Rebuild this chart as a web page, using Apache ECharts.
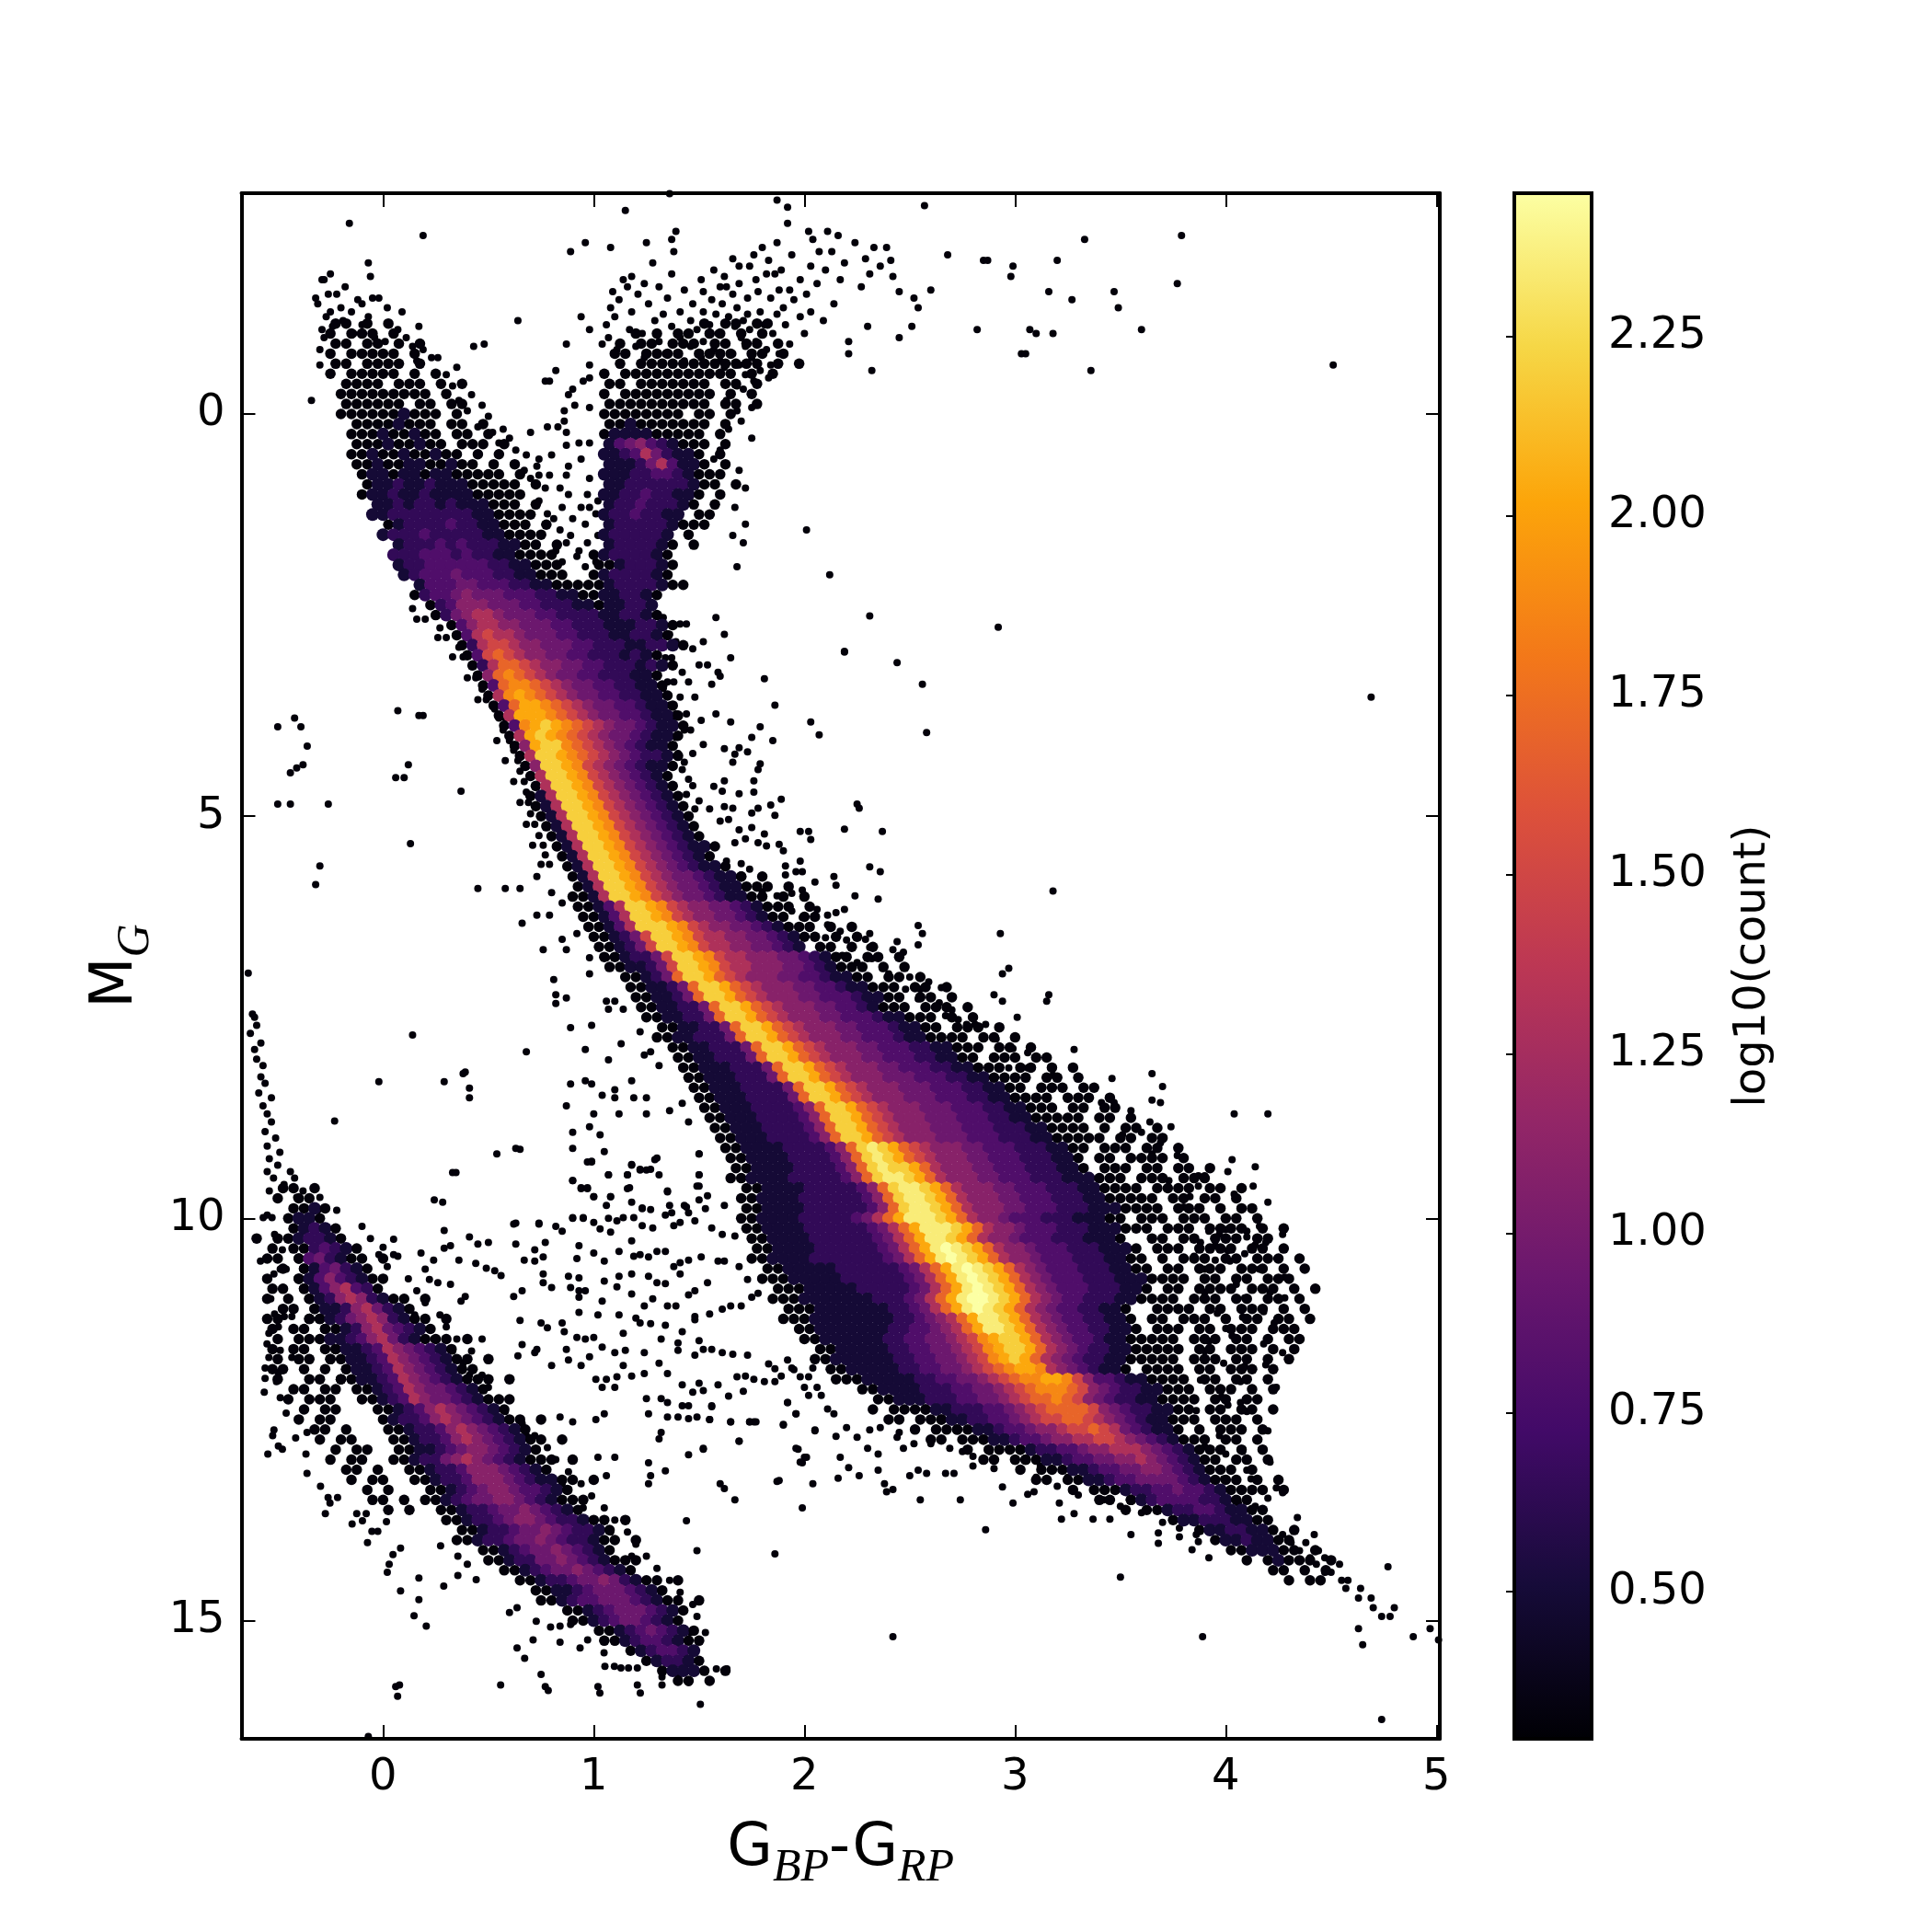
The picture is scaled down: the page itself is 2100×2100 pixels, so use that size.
<!DOCTYPE html>
<html>
<head>
<meta charset="UTF-8">
<title>Hess diagram</title>
<script src="https://cdn.jsdelivr.net/npm/echarts@6/dist/echarts.min.js"></script>
<style>html,body{margin:0;background:#fff}#container{width:2100px;height:2100px}</style>
</head>
<body>
<div id="container"></div>
<script type="text/javascript">
var xTicks = [0, 1, 2, 3, 4, 5];
var yTicks = [0, 5, 10, 15];
var barTicks = [0.5, 0.75, 1, 1.25, 1.5, 1.75, 2, 2.25];
var inferno = ['#000004', '#160b39', '#420a68', '#6a176e', '#932667', '#bc3754', '#dd513a', '#f37819', '#fca50a', '#f6d746', '#fcffa4'];
var levelChars = '0123456789abcd';
var levelValues = [0.32, 0.5, 0.65, 0.8, 0.95, 1.1, 1.3, 1.5, 1.7, 1.88, 2.03, 2.2, 2.35, 2.45];
var cellWidth = 0.05;

// [M_G, first colour, one level char per 0.05 in colour, "." is an empty bin]
var branchRuns = [
  [-1.125,-0.25,"00.0.0"],[-1,-0.25,"0.000.0"],[-0.875,-0.25,"00.00.0.0"],
  [-0.75,-0.25,"0.00000.0"],[-0.625,-0.25,"00.0000.0"],[-0.5,-0.25,"0.00000.0.0"],[-0.375,-0.2,"0000.000.0.0"],
  [-0.25,-0.2,"000000000.0"],[-0.125,-0.2,"000000.00.00"],[0,-0.2,"0000001000.0"],[0.125,-0.15,"00001000.00.0"],
  [0.25,-0.15,"000100100.00.0"],[0.375,-0.15,"000100100.000.0"],[0.5,-0.15,"00100100100.0.0"],[0.625,-0.15,"001001100100.0.0"],
  [0.75,-0.1,"01101101100000.0"],[0.875,-0.1,"011211211100000.0"],[1,-0.1,"0112112111100000"],[1.125,-0.05,"11212212111000.0"],
  [1.25,-0.05,"1122222222110000"],[1.375,0,"01222232211000.0"],[1.5,0,"1222322222110000"],[1.625,0.05,"12223232221100.0"],
  [1.75,0.05,"2223332322110000"],[1.875,0.05,"1223333332211000"],[2,0.1,"1233343332211000"],[2.125,0.15,"1333443332211000"]
];
var giantRuns = [
  [-1.125,1.5,"0.00.00"],[-1,1.2,"0.0.00.00.0.0"],[-0.875,1.1,"0.00.000.00.00.0"],[-0.75,1.1,"00.0000.0000.00.0"],[-0.625,1.1,"0.000000000000.0.0"],
  [-0.5,1.05,"0.00000000000.0.0"],[-0.375,1.05,"00.0000000.00.0"],[-0.25,1.05,"0.000000000.0.0"],[-0.125,1.05,"0000000000.00.0"],
  [0,1.05,"00000000.00.0"],[0.125,1.05,"0010000000.0"],[0.25,1.05,"0111100000.0"],[0.375,1.05,"1345321000.0"],
  [0.5,1.05,"1123642110.0"],[0.625,1.05,"1112463110.0"],[0.75,1.05,"111223321000"],[0.875,1.05,"11222222100.0"],
  [1,1.05,"1122322110.0"],[1.125,1.05,"122322210.0"],[1.25,1.05,"12232211.00"],[1.375,1.05,"1222221000"],
  [1.5,1.05,"1222221.0"],[1.625,1.05,"1222210.0"],[1.75,1,"01222210"],[1.875,1,"00122210"],[2,1,"01222210"],[2.125,0.95,"0012222100"]
];
var mainRuns = [
  [2.25,0.15,"023345444333221100112210"],[2.375,0.2,"0235554443322211011221"],[2.5,0.25,"0245665444332222112210"],
  [2.625,0.3,"0356655444332221112210"],[2.75,0.35,"036766544433222112210"],[2.875,0.35,"0267765544433222112210"],
  [3,0.4,"0378765544332221210"],[3.125,0.4,"02688765544332221210"],[3.25,0.45,"058987654433222110"],[3.375,0.45,"038998765443322110"],
  [3.5,0.5,"069a98765443322110"],[3.625,0.5,"038aa9876544332110"],[3.75,0.55,"06aaa9876544332110"],[3.875,0.55,"039aba987654432110"],
  [4,0.6,"06aba987654432110"],[4.125,0.6,"05abb98765432110"],[4.25,0.65,"06bba98765432210"],[4.375,0.65,"05bba9765432110"],
  [4.5,0.7,"06bba976543210"],[4.625,0.7,"06bba976543210"],[4.75,0.7,"016bba976543210"],[4.875,0.7,"016bba976543210"],
  [5,0.75,"016bba976543210"],[5.125,0.75,"016bba976543210"],[5.25,0.8,"016bba976543210"],[5.375,0.8,"016bba9765432110"],
  [5.5,0.85,"016bba976543210"],[5.625,0.85,"016bba9765432110"],[5.75,0.9,"016bba97654432110"],[5.875,0.9,"016bba97654432110"],
  [6,0.9,"0016bba97654432110"],[6.125,0.9,"00136bba97655443210"],[6.25,0.95,"00136bba97655443210"],[6.375,0.95,"00136bbba97655443210"],
  [6.5,1,"001247bba976655443210"],[6.625,1,"001247bba97665544321"],[6.75,1.05,"0012247bba9766555443210"],[6.875,1.05,"0011247bba9766555443210"],
  [7,1.15,"001248bba87655544332110"],[7.125,1.15,"0011248bba87655544332110"],[7.25,1.2,"0011248bba876555443332110"],[7.375,1.2,"00112248bba8765554433210"],
  [7.5,1.25,"00112248bba876555443332110"],[7.625,1.3,"00112248bba876555443332110"],[7.75,1.3,"001122248bba876555443332110"],[7.875,1.35,"001122248bba8765554433322110"],
  [8,1.4,"001122248bba8765554433322110"],[8.125,1.4,"0011122248bba8765554433322110"],[8.25,1.45,"0011122248bba87655544433322110"],[8.375,1.45,"00111222248bba87655544433322110"],
  [8.5,1.5,"00111222248bba876555444333221100"],[8.625,1.5,"001112222358bba876555444333221100"],[8.75,1.55,"001112222358bba876555444333221100"],[8.875,1.55,"001112222358bba8765554443332221100"],
  [9,1.6,"001112222358bba8765554443332221100"],[9.125,1.6,"0011112222358bcba87655544333222110"],[9.25,1.65,"0011112222358bcba87655544333222110"],[9.375,1.65,"0011112222358bcbba8655544333222110"],
  [9.5,1.65,"00111122222358bccba865554433322211100"],[9.625,1.7,"00111122222358bccba86555443332221100"],[9.75,1.7,"001111222222358bccba86555443332221100"],[9.875,1.7,"001111222222358bccba865554433322211100"],
  [10,1.7,"001111222223468acccba8655433322211100"],[10.125,1.7,"0011112222223468acccba8655433322211100"],[10.25,1.75,"0011112222223468accba865543332221110"],[10.375,1.75,"0011112222223468acdcba865543332221110"],
  [10.5,1.75,"00111122222223468acdcba865543332221100"],[10.625,1.8,"00111112222223468acdcba86543332221100"],[10.75,1.8,"000111112222223468acdcba86543332221110"],[10.875,1.85,"00011111222223468acdcba8654333222110"],
  [11,1.85,"00011111112223468acddcba865433222110"],[11.125,1.9,"00011111112234 68acdcba86543322110".replace(' ','')],[11.25,1.9,"000111111112234568accba86543322110"],[11.375,1.95,"001111111223345 68accba86543322110".replace(' ','')],
  [11.5,2,"001111112233445679abba8654332110"],[11.625,2.05,"00111112233445679abba86543221100"],[11.75,2.05,"001111112233445679aba8654322110"],[11.875,2.1,"001111122334456789aa965432110"],
  [12,2.15,"00011111223344567899aa975332110"],[12.125,2.25,"001111222334456789998754322110"],[12.25,2.35,"0011122233445678898754322110"],[12.375,2.5,"00112223345678888754322110"],
  [12.5,2.6,"001122334567788765432110"],[12.625,2.7,"0011233455677876432110"],[12.75,2.8,"001123345566776543210"],[12.875,2.95,"0012233455666543210"],
  [13,3.05,"001123344556543210"],[13.125,3.2,"011233445543210"],[13.25,3.3,"011233444432100"],[13.375,3.45,"0122334332100"],
  [13.5,3.55,"012333322100"],[13.625,3.65,"01223321100"],[13.75,3.75,"0112221100"],[13.875,3.85,"01122110.0"],
  [14,3.95,"01121100"],[14.125,4,"0011100.0"],[14.25,4.1,"0.01000.0"],[14.375,4.2,"00.0.0"],[14.5,4.3,"0.00"]
];
var dwarfRuns = [
  [9.625,-0.5,"00.0"],[9.75,-0.5,"0.00"],[9.875,-0.45,"0010"],[10,-0.45,"0110"],[10.125,-0.45,"01210"],[10.25,-0.45,"012210"],
  [10.375,-0.4,"023210"],[10.5,-0.4,"034210"],[10.625,-0.4,"0134210"],[10.75,-0.4,"0135321"],[10.875,-0.4,"01356320"],
  [11,-0.35,"012565210"],[11.125,-0.35,"0112564210"],[11.25,-0.35,"00124565210"],[11.375,-0.3,"00125643210"],[11.5,-0.3,"01123564210"],
  [11.625,-0.25,"011236543210"],[11.75,-0.25,"0011236543210"],[11.875,-0.2,"0112365432100"],[12,-0.2,"00112365432100"],
  [12.125,-0.15,"0012365443210"],[12.25,-0.1,"0012365443210"],[12.375,-0.05,"0012356543210"],[12.5,0,"0122356543210"],
  [12.625,0,"00122356543210"],[12.75,0.05,"00122356543210"],[12.875,0.05,"00112345543210"],[13,0.05,"00122456543210"],
  [13.125,0.1,"00122355543210"],[13.25,0.15,"001223555432110"],[13.375,0.2,"00123455433210"],[13.5,0.2,"00123445543210"],
  [13.625,0.25,"00122344543210"],[13.75,0.3,"001223455432210"],[13.875,0.35,"001223445432210"],[14,0.35,"001223445432210"],
  [14.125,0.45,"0012344543210"],[14.25,0.5,"0012244543210"],[14.375,0.55,"0012344543210"],[14.5,0.65,"0012234454210"],
  [14.625,0.7,"0011234443210"],[14.75,0.75,"0012334443210"],[14.875,0.85,"001234443210"],[15,0.9,"00123443210"],
  [15.125,1,"0012343210"],[15.25,1.05,"0012332100"],[15.375,1.15,"0123321"],[15.5,1.25,"012210"],[15.625,1.3,"01110.0"],[15.75,1.4,"00.0"]
];
// thin black edges of the two sequences
var fringeRuns = [
  [5.75,1.7,"0.0"],[5.875,1.75,"00.0"],[6,1.8,"0.0.0"],[6.125,1.85,"00.0"],[6.25,1.9,"0.00"],[6.375,1.95,"00.0.0"],[6.5,2.05,"0.0.0"],[6.625,2.05,"00.0.0"],[6.75,2.2,"0.00.0"],[6.875,2.2,"00.0.0"],
  [7,2.3,"0.00.0"],[7.125,2.35,"00.00.0"],[7.25,2.45,"0.00.0"],[7.375,2.4,"00.000.0"],[7.5,2.55,"00.0.0"],[7.625,2.6,"0.000.0"],[7.75,2.65,"000.00.0"],[7.875,2.75,"00.00.0"],
  [8,2.8,"0.000.00"],[8.125,2.85,"00.00.0.0"],[8.25,2.95,"000.00.0"],[8.375,3,"0.000.00"],[8.5,3.1,"00.000.0"],[8.625,3.15,"0.00.00"],[8.75,3.2,"000.00.0"],[8.875,3.25,"00.0.00.0"],
  [9,3.3,"000.00.00"],[9.125,3.3,"0.000.00.0"],[9.25,3.4,"00.0000.0"],[9.375,3.4,"000.00.00.0"],[9.5,3.5,"0.000.000"],[9.625,3.5,"00.0000.00.0"],[9.75,3.55,"000.00.00.0"],[9.875,3.6,"00.000.0.00"],
  [10,3.6,"000.000.00.0"],[10.125,3.6,"0.000.0000.0.0"],[10.25,3.65,"00.00.000.00"],[10.375,3.65,"000.0000.00.0"],[10.5,3.7,"0.000.00.000.0"],[10.625,3.7,"00.000.000.0.0"],[10.75,3.7,"000.00.00.000"],[10.875,3.7,"00.0000.000.0.0"],
  [11,3.65,"000.000.00.00.0"],[11.125,3.65,"0000.00.000.0.0"],[11.25,3.65,"00.000.0.00.00.0"],[11.375,3.65,"000.00.000.000"],[11.5,3.6,"0000.000.00.0.00"],[11.625,3.65,"000.00.000.0.0"],[11.75,3.6,"0000.000.00.0.0"],[11.875,3.6,"0000.00.000.0"],
  [12,3.7,"000.00.00.0"],[12.125,3.75,"00.000.0.0"],[12.25,3.75,"000.00.00"],[12.375,3.8,"0.00.00.0"],[12.5,3.8,"00.000.0"],[12.625,3.85,"0.000.0"],[12.75,3.85,"00.00.0"],[12.875,3.9,"00.0.0"],[13,3.95,"0.00.0"],[13.125,3.95,"00.0"],[13.25,4.05,"0.0.0"],[13.375,4.1,"00.0"],
  [12.375,2.3,"0.00.0"],[12.5,2.4,"00.0.0"],[12.625,2.5,"0.000.0"],[12.75,2.6,"00.0.00"],[12.875,2.75,"0.00.0"],[13,2.85,"00.00"],[13.125,3,"0.00.0"],[13.25,3.1,"00.0.0"],[13.375,3.25,"0.00"],[13.5,3.4,"00.0"],[13.625,3.5,"0.0"],
  [10.25,-0.6,"0.0"],[10.375,-0.55,"0.0"],[10.5,-0.55,"00.0"],[10.625,-0.55,".0.0"],[10.75,-0.55,"0..0.0"],[10.875,-0.55,"00.0"],[11,-0.55,"0.0.0"],[11.125,-0.55,".00.0"],[11.25,-0.55,"00..00"],[11.375,-0.55,"0.00.0"],[11.5,-0.55,".0.00"],[11.625,-0.55,"0.00.00"],
  [11.75,-0.5,"0.00.0"],[11.875,-0.55,"00.0.0.0"],[12,-0.5,"0..00.0"],[12.125,-0.5,".00.00"],[12.25,-0.45,"0.000"],[12.375,-0.45,".0.00"],[12.5,-0.4,"0.00"],[12.625,-0.4,".00.0"],[12.75,-0.3,"0.00"],[12.875,-0.3,".0.00"],[13,-0.25,"0.00"],[13.125,-0.25,".00.0"],[13.25,-0.15,"0.00"],[13.375,-0.15,".0.0"],[13.5,-0.05,"00.0"],[13.625,0,"0.0"],
  [10.5,-0.1,"0.0"],[10.75,-0.05,"00"],[11,0.1,"0.0"],[11.25,0.2,"0.0"],[11.5,0.25,"00.0"],[11.75,0.4,"0.0"],[12,0.5,"0.0"],[12.25,0.55,"00"],[12.5,0.65,"0.0"],[12.75,0.75,"0.0"],[13,0.75,"00.0"],[13.25,0.9,"0.0"],[13.5,0.9,"00"],[13.75,1.05,"0.0"],[14,1.1,"0.0"],[14.25,1.15,"00"],[14.5,1.3,"0.0"],[14.75,1.4,"0.0"]
];

// single stars, [M_G, colour, colour, ...]
var topStars = [
  [-2.74,1.36],[-2.66,1.87],[-2.59,2.57],[-2.57,1.92],[-2.53,1.15],[-2.37,-0.16,1.92],[-2.27,1.39,2.02,2.11],[-2.22,0.19,3.79,2.16],
  [-2.17,3.33,1.37,2.04],[-2.13,0.96,1.25,1.87,2.24],[-2.07,1.08,1.8,2.33,2.39],[-2.02,0.89,1.38,2.07,2.13],[-1.98,2.68,1.76,1.94],
  [-1.93,1.66,2.29],[-1.91,2.85,2.87,3.2,1.83,2.41],[-1.88,-0.07,1.28,2.19],[-1.84,2.99,1.69,1.74,2.03,2.36],[-1.79,1.57,1.89,2.1],
  [-1.74,-0.25,1.37,1.82,1.86,2.31],[-1.71,-0.06,2.98,1.18,1.62,2.42],[-1.67,-0.29,-0.28,1.14,1.51,1.77,1.98,2.17],[-1.62,3.77,1.24,1.69,2.06],
  [-1.58,-0.18,1.16,1.31,1.6,1.63,2.27],[-1.54,1.43,1.88,1.93,2.6],[-1.52,3.16,3.47,1.09,1.52,1.78,2.45],[-1.49,-0.22,-0.26,1.21,1.66,2.01],
  [-1.44,-0.32,-0.05,-0.02,1.35,1.73,1.84,2.52],[-1.42,3.27,-0.12,1.12,1.56,1.95],[-1.37,-0.1,-0.31,1.26,1.47,1.61,2.14],[-1.32,3.49,-0.2,0.02,1.08,1.68,1.9,2.54],
  [-1.27,0.09,-0.25,-0.15,1.18,1.41,1.52,1.79,2.03],[-1.24,1.33,1.58,1.73,1.87],[-1.21,0.94,-0.27,-0.07,1.1,1.64,1.98],[-1.16,0.64,-0.19,1.29,1.46,1.71,2.09],
  [-1.11,-0.1,0.03,1.06,1.55,1.81,1.91],[-1.09,2.51,0.17,-0.24,1.37,1.67,2.3],[-1.05,3.6,2.82,3.07,0.98,-0.29,0.07,1.17,1.49,1.74],[-1,3.18,3.1,-0.14,1.23,1.59,1.85,2.0],
  [-0.95,-0.28,-0.04,0.11,1.07,1.41,1.7,2.45],[-0.9,0.01,1.31,1.52,1.77,2.21],[-0.87,0.87,0.48,-0.23,1.04,1.62,1.93],[-0.84,0.43,0.14,1.2,1.46,1.72],
  [-0.8,-0.3,0.19,1.11,1.57,1.82],[-0.75,3.03,3.05,2.21,1.34,1.66,1.88],[-0.7,0.26,0.23,1.24,1.51,1.75],[-0.66,0.16,1.43,1.6],[-0.61,4.51,-0.3,0.98,1.69,1.84],
  [-0.58,0.35,1.62],[-0.54,0.82,2.32,3.36,1.79],[-0.49,0.3,1.72],[-0.45,0.98,1.83],[-0.41,0.77,0.79,0.95,1.76],[-0.35,0.33,1.68],[-0.31,0.9,1.71],[-0.24,0.88,0.42],
  [-0.17,-0.34,0.36,1.63],[-0.11,0.91,0.47],[-0.08,0.98,1.75],[-0.04,0.86,0.4,1.68],[0.03,0.5],[0.09,0.86,1.7],[0.16,0.78,0.83,0.45],[0.19,0.57,1.64],
  [0.23,0.7,0.87,0.52],[0.3,0.6,1.75],[0.36,0.93,0.98,0.55],[0.39,0.87],[0.45,0.63,1.6],[0.51,0.8,0.68],[0.56,0.74,0.94,1.57],[0.65,0.88,0.73],
  [0.7,0.67,1.69],[0.76,0.87,0.74,0.79],[0.8,0.7,0.98],[0.86,1.58],[0.92,0.77,0.84,1.72],[1,0.88,0.97],[1.08,0.74,1.02],[1.16,0.85,0.94,0.98,1.67],
  [1.24,0.78,1.01],[1.3,0.81,0.9],[1.37,0.77,0.96,1.72],[1.44,0.84,2.01],[1.51,0.89,1.02,1.66],[1.6,0.87,0.97,1.71],[1.7,0.82,0.93],[1.77,0.92],[1.84,1.01,0.85],[1.9,0.96,1.68]
];
var outerStars = [
  [2,2.12],[2.51,2.31],[2.65,2.92],[2.96,2.19],[3.52,4.69],[3.69,0.07],[3.75,0.17,0.19],[3.78,-0.42],[3.89,-0.39,-0.5],
  [4.13,-0.36],[4.36,-0.38,0.12],[4.4,-0.41],[4.46,-0.44],[4.52,0.06,0.1],[4.69,0.37],[4.85,-0.5,-0.44,-0.26,2.25],[5.34,0.13],[5.62,-0.3],[5.85,-0.32],
  [6.95,-0.64],[7.46,-0.62],[7.72,0.14],[7.93,0.68],[8.18,0.39],[8.3,0.29,-0.02],[8.38,0.41],[8.79,-0.23],
  [9.13,0.63],[9.43,0.33],[14.33,4.77],[14.46,3.5],[15.1,4.97,4.63],[15.2,4.89,3.89,2.42],[15.24,5.01],[15.3,4.65],
  [15.82,0.06,0.77,1.02],[16.23,4.74],[16.44,-0.07]
];
var upperRightStars = [
  [2.53,1.33,1.58],[2.61,1.31,1.41,1.44],[2.74,1.36,1.62],[2.83,1.32,1.39,1.52],[2.92,1.47],[2.95,2.19],[3.03,1.34,1.37,1.65],[3.09,2.44],[3.12,1.33,1.5,1.54],[3.21,1.42,1.59],
  [3.26,1.6],[3.29,1.81],[3.33,1.35,1.38,1.45],[3.36,2.56,1.56],[3.41,1.33],[3.52,1.41,1.48],[3.62,1.86,1.36],[3.73,1.58,1.39,1.44],[3.81,1.37,1.51],[3.83,2.03,1.65],[3.89,1.79],
  [3.93,1.43,1.46],[3.96,2.58],[3.99,2.07],[4.02,1.75,1.39],[4.06,1.85],[4.11,1.52],[4.15,1.69],[4.16,1.62],[4.2,1.73],[4.22,1.4,1.47],[4.23,1.67],[4.33,1.66,1.43],[4.35,1.79],
  [4.42,1.78,1.42],[4.54,1.45],[4.56,1.76,1.62],[4.62,1.47],[4.63,1.57],[4.69,1.61],[4.7,1.76],[4.72,1.69],[4.73,1.44],[4.79,1.89],[4.81,1.5],[4.86,1.84],[4.88,1.62],[4.9,1.78,1.66,2.26],
  [4.91,1.48,1.55],[4.96,1.75],[4.99,1.86],[5.04,1.64],[5.06,1.6],[5.14,1.75],[5.16,2.19],[5.17,1.69],[5.19,1.98,2.02,2.37],[5.22,1.81],[5.28,1.72],[5.29,2.03],[5.33,1.67,1.78],
  [5.35,1.88],[5.37,1.82],[5.43,1.9],[5.56,1.63,1.98],[5.59,1.7],[5.62,1.91],[5.63,2.31],[5.66,1.74],[5.69,1.96,1.99,2.36],[5.73,1.91],[5.75,2.14],[5.82,2.05],[5.86,2.15],[5.92,1.99],
  [5.93,3.18],[5.94,1.8],[5.96,1.94],[5.99,2.24,1.87],[6.03,2.35],[6.16,2.06,2.19],[6.18,1.94],[6.2,2.15],[6.23,2.11],[6.26,1.99],[6.35,2.11],[6.36,2.54],[6.43,2.17],[6.46,2.56,2.93,2.31],
  [6.51,2.1],[6.53,2.29],[6.54,2.2],[6.56,2.44],[6.6,2.54],[6.63,2.31],[6.66,2.42],[6.69,2.47],[6.73,2.18],[6.77,2.32],[6.82,2.25],[6.89,2.37,2.97],[6.96,2.4,2.94],[7,2.5],[7.06,2.59],
  [7.13,2.65],[7.15,2.55,2.48],[7.22,2.9,3.16],[7.27,2.54],[7.3,2.94,3.15],[7.32,2.64],[7.41,2.7],[7.48,2.67],[7.5,3.01],[7.53,2.73],[7.59,2.77,2.86,2.81],[7.77,2.91],[7.89,2.99],
  [7.9,3.28],[7.94,3.06],[8.13,3.06,2.97],[8.2,3.65],[8.22,3.18],[8.26,3.46],[8.36,3.7],[8.53,3.65],[8.56,3.69,3.41,3.47],[8.66,3.55],[8.7,4.04,4.2],[8.8,3.64],[8.86,3.74],[8.93,3.6],[8.96,3.51],
  [9.06,3.69],[9.2,3.65],[9.22,3.77],[9.27,4.03],[9.36,4.14],[9.42,4.01],[9.47,3.87,3.9],[9.53,3.73],[9.6,4.13,3.87],[9.7,4.04],[9.73,3.83],[9.8,4.2],[9.86,3.87,3.8],[10.1,4.16],[10.14,4],
  [10.16,4.1,3.92],[10.2,4.27,3.97],[10.23,4.1],[10.3,4.19,3.88],[10.33,4.14],[10.34,3.95],[10.4,4.01],[10.44,4.09],[10.47,3.85],[10.52,3.95],[10.53,4.02],[10.63,4.16,3.9],[10.73,4.28],[10.82,4.05],
  [10.92,4.21,3.9],[10.99,4.09,4.28],[11.16,4.18],[11.18,3.96],[11.23,4.08],[11.3,4.23],[11.37,4.28,4],[11.46,4.03],[11.53,3.92],[11.56,4.18],[11.61,4.07],[11.65,3.9],[11.67,4.27],[11.8,3.99],
  [11.82,4.19],[11.84,4.09],[12.01,3.88],[12.03,4.07],[12.1,4.24],[12.22,3.98],[12.29,4.07],[12.32,4.01],[12.39,3.86],[12.4,4.1],[12.64,4.2],[12.7,3.97],[12.84,3.9],[12.9,4.08],[12.93,4],[13.03,4.21],
  [13.13,4.1],[13.24,3.99,4.12],[13.27,4.05],[13.35,4.24],[13.41,4.27],[13.48,4.2],[13.54,4.06],[13.58,4.14],[13.72,4.34],[13.93,4.27,4.42],[14.03,4.31,4.38],[14.13,4.35,4.44],[14.22,4.4,4.47],[14.3,4.43,4.54],
  [14.4,4.5,4.47],[14.5,4.55,4.58],[14.6,4.57,4.64],[14.72,4.63,4.69],[14.84,4.7,4.8],[14.95,4.74,4.78]
];
var leftEdgeStars = [
  [2.42,0.14],[2.55,0.2,0.16],[2.66,0.27],[2.78,0.3,0.26],[2.9,0.36],[3.02,0.38,0.33],[3.14,0.42],[3.28,0.44,0.4],[3.42,0.47],[3.55,0.49,0.45],[3.67,0.53],[3.78,0.55,0.58],[3.93,0.57],
  [4.06,0.6,0.54],[4.18,0.62],[4.31,0.64,0.58],[4.44,0.65],[4.57,0.67,0.62],[4.7,0.68],[4.83,0.69,0.65],[4.97,0.7],[5.1,0.72,0.68],[5.24,0.74],[5.36,0.76,0.71],[5.48,0.77],[5.6,0.79,0.75],
  [5.75,0.73],[5.9,0.45,0.58,0.65],[5.95,0.8],[6.08,0.85],[6.23,0.73,0.79],[6.33,0.66],[6.46,0.92],[6.53,0.85],[6.66,0.76,0.87],[6.76,0.98,1.06],[6.96,0.98],[7.03,0.81],[7.22,0.82],[7.26,0.87],[7.3,1.06,1.1],
  [7.33,0.82],[7.4,1.07,1.14],[7.63,0.89],[7.6,0.99],[7.68,1.22],[7.83,1.13],[7.9,0.96],[7.93,1.27],[7.97,1.24],[8.03,1.07],[8.1,1.31],[8.2,0.38],[8.29,0.96,1.18],[8.33,0.99,0.89],[8.4,1.1],
  [8.47,1.04],[8.5,0.41,1.1,1.19,1.25],[8.57,1.42],[8.6,0.87],[8.66,1.36],[8.7,1,1.12,1.25],[8.8,1.45],[8.86,0.98],[8.93,0.9],[8.96,1.03],[9.13,0.9],[9.14,0.65],[9.17,1.05],[9.2,0.54,1.5],[9.27,1.29],
  [9.3,0.97,0.99],[9.34,1.18],[9.4,1.22,1.25],[9.46,1.31,1.16,1.07,1.5],[9.53,0.9],[9.6,1.49],[9.63,1.16,0.94,0.97],[9.67,1.35],[9.73,1,1.08],[9.8,1.18],[9.84,1.06,1.36,1.43],[9.87,1.23],[10,0.9,0.95,1.07],[10.07,0.62,0.74]
];
var gapStars = [
  [9.43,0.346],[9.77,0.243],[9.8,0.283],[9.53,0.9],[9.62,0.94,0.97,1.17],[9.73,1,1.08],[9.66,1.35],[9.33,1.18],[9.39,1.22,1.27],[9.46,1.07,1.16],[9.29,0.99],[9.25,1.3],[9.2,1.5],[9.46,1.5],[9.6,1.5],[9.77,1.5],[9.72,1.54],[9.84,1.62],
  [10.06,0.63,0.74],[10.1,0.82],[10.16,0.85],[9.99,0.9,0.95,1.14,1.19],[10.05,1,1.41],[10.13,1.03],[10.17,1.08],[10.03,1.11,1.48],[10.09,1.23,1.38],[10.12,1.28,1.56],[9.88,1.23,1.53],[9.89,1.27],[9.96,1.34],[9.93,1.37,1.45],[9.86,1.44],[10.2,1.61],[10.22,1.67],
  [10.15,0.29],[10.23,0.41],[10.32,0.45,0.63],[10.3,0.5,0.77],[10.39,0.72],[10.36,0],[10.26,0.05],[10.47,0.07],[10.43,0.18],[10.37,0.29],[10.34,0.32],[10.52,0.24,0.36],[10.56,0.44],[10.62,0.49],[10.65,0.53],[10.71,0.56],[10.52,0.67],[10.53,0.72],[10.48,0.76],
  [10.34,0.93],[10.5,0.92],[10.43,1],[10.53,1.05],[10.41,1.12,1.3,1.34],[10.28,1.18],[10.47,1.19],[10.45,1.22],[10.48,1.26,1.51],[10.55,1.41],[10.6,1.38],[10.52,1.45],[10.53,1.59,1.62],[10.6,1.69],
  [10.63,0.2],[10.76,0.22],[10.8,0.26,0.76,1.3,1.54],[10.82,0.32],[10.97,0.39,0.62],[11.03,0.37,1.04],[10.9,0.66,0.93,0.96,1.48],[10.69,0.76,1.18,1.41],[10.86,0.8,0.89],[10.72,0.88,1.12,1.26],[10.74,0.93],[10.98,0.93,1.75],[10.78,1.05],[10.85,1.11],[10.94,1.18],[10.81,1.34],[10.95,1.45],
  [11.19,1.55],[11.13,1.61],[11.09,1.65,1.7,1.24,1.39,1.35],[10.76,1.73],[10.93,1.78],[11,1.28],
  [11.27,0.65],[11.3,0.75,0.85,1.22],[11.36,0.78],[11.41,0.86,1.42],[11.48,0.92,1],[11.5,0.96,0.47,1.32],[11.2,1.02,1.12],[11.17,0.93],[11.24,1.2],[11.31,1.27],[11.33,1.34],[11.22,1.48],[11.26,1.48],[11.43,1.14],
  [11.57,0.66],[11.63,0.73,0.87,1.52,1.56],[11.67,0.72,1.1,1.24,1.61],[11.71,0.64],[11.83,0.8,0.94,1.14],[11.76,0.88,1.92],[11.72,0.98],[11.6,1.04],[11.64,1.15,1.4],[11.8,1.31],[11.55,1.4],[11.7,1.48,1.73],[11.52,1.5],[11.69,1.66],[11.81,1.83],[11.87,1.86],[11.88,1.95],
  [12,1.01,1.06,1.76],[12.1,1.04,1.1],[11.97,1.11,1.68],[11.96,1.18,1.72,1.89],[11.93,1.24,1.35],[12.07,1.42,1.59],[12.16,1.47],[12.05,1.5],[12.14,1.52],[12.21,1.64],[12.15,1.71],[12.03,1.81,1.86],[12.29,1.92,1.35],[12.43,1.96,1.26,1.05],[12.24,1.25,1.32],[12.33,1.42,1.45],[12.34,1.56],
  [12.47,0.84,1.35,1.4,1.49],[12.53,0.9,1.65,1.74,1.76],[12.5,1.01,1.55],[12.49,1.45],[12.56,1.9],[12.63,2.05],[12.66,1.32],[12.74,1.31],[12.77,1.69],[12.97,1.02,1.1,2.01],[12.94,1.45],[12.87,1.52,1.97],[13.04,1.99,1.26],[13.14,1.34],[13.2,1.27,1.06],[13.3,1.26,1.6,2.04],[13.36,1.62],[13.5,1.67],[13.26,1.88],[13.6,1.99],[13.76,1.44],[14.17,1.86]
];
var lowerBandStars = [
  [13.87,2.86],[14.13,1.49],[13.5,2.55,2.74],[13.54,2.99,3.21],[13.43,3.06],[13.4,3.09,2.39],[13.74,3.22,3.37,3.45],[13.67,3.28],[13.93,3.55,3.86],[13.91,3.68],[14.04,3.68],[13.96,3.78],[13.27,1.87],[13.2,2.26,2.5],
  [13.13,2.35,2.54],[13.17,2.58,2.67,2.71],[13.11,2.9],[13.34,2.94],[13.23,2.16],[13.1,2.21],[13.3,2.38],[13.37,2.42],[12.86,1.96,2.3,2.47,2.69,1.52],[12.97,2,2.17],[13.03,1.98],[12.93,2.35],[12.96,2.8],[12.64,2.05],
  [12.71,2.15],[12.57,1.9],[12.77,1.69],[12.53,1.65,1.74,1.77],[12.5,1.55],[12.33,1.56],[12.29,1.92],[12.43,1.96,2.14],[12.37,2.11],[12.63,2.31],[12.66,2.45],[12.8,2.6,2.52],[12.9,2.75,2.88],[13.02,3],[13.08,3.12,2.8],
  [13.22,3.1,3.25],[13.33,3.2],[13.44,3.3],[13.5,3.42],[13.58,3.5],[13.66,3.6],[13.78,3.7],[13.85,3.78],[14.02,3.87],[14.12,3.84],[14.22,3.92],[12.6,2.2,2.36],[12.72,2.25,2.44],[12.2,2.02,2.08],[12.1,2,2.06],[11.97,2.02,1.98],[11.86,1.94,2.04]
];
var dwarfEdgeStars = [
  [7.5,-0.61],[7.6,-0.6],[7.7,-0.63],[7.82,-0.58],[7.9,-0.61],[8.02,-0.6],[8.1,-0.57],[8.24,-0.58],[8.32,-0.56],[8.44,-0.59],[8.5,-0.53],[8.6,-0.57],[8.7,-0.55],[8.8,-0.53],[8.92,-0.56],
  [9,-0.51],[9.1,-0.55],[9.18,-0.49],[9.26,-0.54],[9.34,-0.5],[9.42,-0.55,-0.44],[9.5,-0.52,-0.42],[9.58,-0.47],[9.66,-0.54,-0.38],[9.74,-0.41,-0.3],[9.9,-0.31,-0.22],[9.96,-0.55],
  [9.99,-0.569,-0.527],[10.2,-0.515],[10.39,-0.478],[10.53,-0.582],[10.69,-0.518],[10.63,-0.488,-0.46],[11,-0.533],[11.19,-0.515],[11.22,-0.469,-0.433],[11.35,-0.497],[11.43,-0.542],[11.56,-0.551],[11.64,-0.488],
  [11.73,-0.542,-0.433],[11.86,-0.56],[11.92,-0.497],[11.99,-0.56],[12.03,-0.506],[12.16,-0.564],[12.23,-0.488],[12.42,-0.46],[12.63,-0.518],[12.7,-0.524],[12.83,-0.497],[12.87,-0.478],[12.93,-0.547,-0.366],
  [12.73,-0.415],[12.66,-0.361],[13.17,-0.361],[13.33,-0.297],[13.47,-0.261,-0.216],[13.54,-0.252],[13.67,-0.274,-0.125,-0.08],[13.8,-0.147],[14.03,-0.074],[13.89,-0.053,-0.025],[13.76,-0.098],[13.77,0.016],
  [14.3,0.029,0.4],[14.4,0.02],[14.18,0.047],[14.1,0.083],[14.47,0.17],[14.63,0.083],[14.74,0.17],[14.94,0.147],[15.07,0.205,0.84],[14.57,0.288],[14.44,0.355],[14.07,0.273],[14.2,0.355],[14.49,0.442],[14.9,0.6],[14.84,0.636],
  [15.01,0.727],[15.24,0.712,0.971],[15.34,0.636,0.935],[15.47,0.672],[15.67,0.75],[15.8,0.558,1.207,1.324,0.078],[15.87,0.784],[15.27,0.84],[15.08,0.795],[15.05,0.89],[15.4,1.049],[15.57,1.053,1.098],[15.59,1.129,1.165,1.207],
  [15.9,1.029,1.221],[15.71,1.402],[15.77,1.451],[16.04,1.506],[15.7,1.324],[15.6,1.582,1.632],[15.94,0.069],
  [10.1,-0.1],[10.25,-0.06],[10.45,-0.02,0.05],[10.6,0.02],[10.75,0.12],[10.9,0.16],[11.05,0.2],[11.2,0.15,0.27],[11.35,0.3],[11.5,0.24,0.35],[11.65,0.33,0.42],[11.8,0.38],[11.95,0.47,0.41],[12.1,0.5],[12.25,0.55,0.6],[12.4,0.58],
  [12.55,0.66],[12.7,0.72,0.68],[12.85,0.78],[13,0.82,0.75],[13.15,0.88],[13.3,0.94,0.85],[13.45,0.99],[13.6,1.05,0.95],[13.75,1.1],[13.9,1.16,1.08],[14.05,1.2],[14.2,1.25,1.18],[14.35,1.3],[14.5,1.36],[14.65,1.41,1.32],[14.8,1.47],[14.95,1.49],[15.15,1.53,1.46]
];

function cellPoints(runs) {
    var out = [];
    runs.forEach(function (run) {
        // every other row sits half a bin over, like a hexagonal binning
        var stagger = Math.round(run[0] * 8) % 2 ? cellWidth / 2 : 0;
        for (var j = 0; j < run[2].length; j++) {
            var k = levelChars.indexOf(run[2].charAt(j));
            if (k >= 0) {
                out.push([run[1] + j * cellWidth + stagger, run[0], levelValues[k]]);
            }
        }
    });
    return out;
}
function starPoints(rows) {
    var out = [];
    rows.forEach(function (row) {
        for (var j = 1; j < row.length; j++) {
            out.push([row[j], row[0], 0.32]);
        }
    });
    return out;
}
// fringe first so the brighter bins stay on top of it
var cells = cellPoints(fringeRuns.concat(branchRuns, giantRuns, mainRuns, dwarfRuns));
var stars = starPoints(topStars.concat(outerStars, upperRightStars, leftEdgeStars, gapStars, lowerBandStars, dwarfEdgeStars));

var axisLine = {show: true, onZero: false, lineStyle: {color: '#000', width: 4}};
function plotTick(values) {
    return {show: true, inside: true, length: 15, customValues: values, lineStyle: {color: '#000', width: 2}};
}
var tickFont = {color: '#000', fontFamily: 'DejaVu Sans', fontSize: 48};
var subRich = {fontFamily: 'Liberation Serif', fontStyle: 'italic', fontSize: 50, color: '#000', verticalAlign: 'bottom', lineHeight: 50, padding: [0, 0, -14, 0]};
var bigRich = {fontFamily: 'DejaVu Sans', fontSize: 64, color: '#000', verticalAlign: 'bottom', lineHeight: 70};

var myChart = echarts.init(document.getElementById('container'), null, {renderer: 'canvas'});
var option = {
    animation: false,
    backgroundColor: '#fff',
    grid: [
        {left: 262.5, top: 210, width: 1302.5, height: 1680},
        {left: 1646, top: 210, width: 84, height: 1680}
    ],
    visualMap: {show: false, type: 'continuous', dimension: 2, seriesIndex: [0, 1], min: 0.295, max: 2.45, inRange: {color: inferno}},
    xAxis: [
        {
            type: 'value', gridIndex: 0, min: -0.672, max: 5.016, position: 'bottom', z: 5,
            axisLine: axisLine, axisTick: plotTick(xTicks), splitLine: {show: false},
            axisLabel: Object.assign({customValues: xTicks, margin: 19}, tickFont),
            name: '{g|G}{s|BP}{g|-G}{s|RP}', nameLocation: 'middle', nameGap: 82,
            nameTextStyle: {rich: {g: bigRich, s: subRich}}
        },
        {
            type: 'value', gridIndex: 0, min: -0.672, max: 5.016, position: 'top', z: 5,
            axisLine: axisLine, axisTick: plotTick(xTicks), axisLabel: {show: false}, splitLine: {show: false}
        },
        {type: 'value', gridIndex: 1, min: 0, max: 1, show: false}
    ],
    yAxis: [
        {
            type: 'value', gridIndex: 0, inverse: true, min: -2.745, max: 16.47, position: 'left', z: 5,
            axisLine: axisLine, axisTick: plotTick(yTicks), splitLine: {show: false},
            axisLabel: Object.assign({customValues: yTicks, margin: 18, padding: [8, 0, 0, 0]}, tickFont),
            name: '{m|M}{s|G}', nameLocation: 'middle', nameGap: 104, nameRotate: 90,
            nameTextStyle: {rich: {m: bigRich, s: subRich}}
        },
        {
            type: 'value', gridIndex: 0, inverse: true, min: -2.745, max: 16.47, position: 'right', z: 5,
            axisLine: axisLine, axisTick: plotTick(yTicks), axisLabel: {show: false}, splitLine: {show: false}
        },
        {
            type: 'value', gridIndex: 1, min: 0.295, max: 2.45, position: 'right', z: 5,
            axisLine: {show: false}, splitLine: {show: false},
            axisTick: {show: true, inside: true, length: 9, customValues: barTicks, lineStyle: {color: '#000', width: 2}},
            axisLabel: Object.assign({customValues: barTicks, margin: 18, padding: [8, 0, 0, 0], formatter: function (v) { return v.toFixed(2); }}, tickFont),
            name: 'log10(count)', nameLocation: 'middle', nameGap: 152, nameRotate: 90,
            nameTextStyle: {color: '#000', fontFamily: 'DejaVu Sans', fontSize: 48}
        }
    ],
    series: [
        {type: 'scatter', xAxisIndex: 0, yAxisIndex: 0, data: stars, symbolSize: 8, itemStyle: {opacity: 1}, z: 2},
        {
            type: 'scatter', xAxisIndex: 0, yAxisIndex: 0, data: cells, itemStyle: {opacity: 1}, z: 3,
            symbolSize: function (d) { return d[2] < 0.4 ? 11.5 : 14; }
        },
        {
            type: 'custom', xAxisIndex: 2, yAxisIndex: 2, data: [[0, 0.295, 1, 2.45]], z: 3,
            renderItem: function (params, api) {
                var a = api.coord([api.value(0), api.value(3)]);
                var b = api.coord([api.value(2), api.value(1)]);
                return {
                    type: 'rect',
                    shape: {x: a[0], y: a[1], width: b[0] - a[0], height: b[1] - a[1]},
                    style: {stroke: '#000', lineWidth: 4, fill: new echarts.graphic.LinearGradient(0, 1, 0, 0, inferno.map(function (c, i) {
                        return {offset: i / (inferno.length - 1), color: c};
                    }))}
                };
            }
        }
    ]
};
myChart.setOption(option);
</script>
</body>
</html>
